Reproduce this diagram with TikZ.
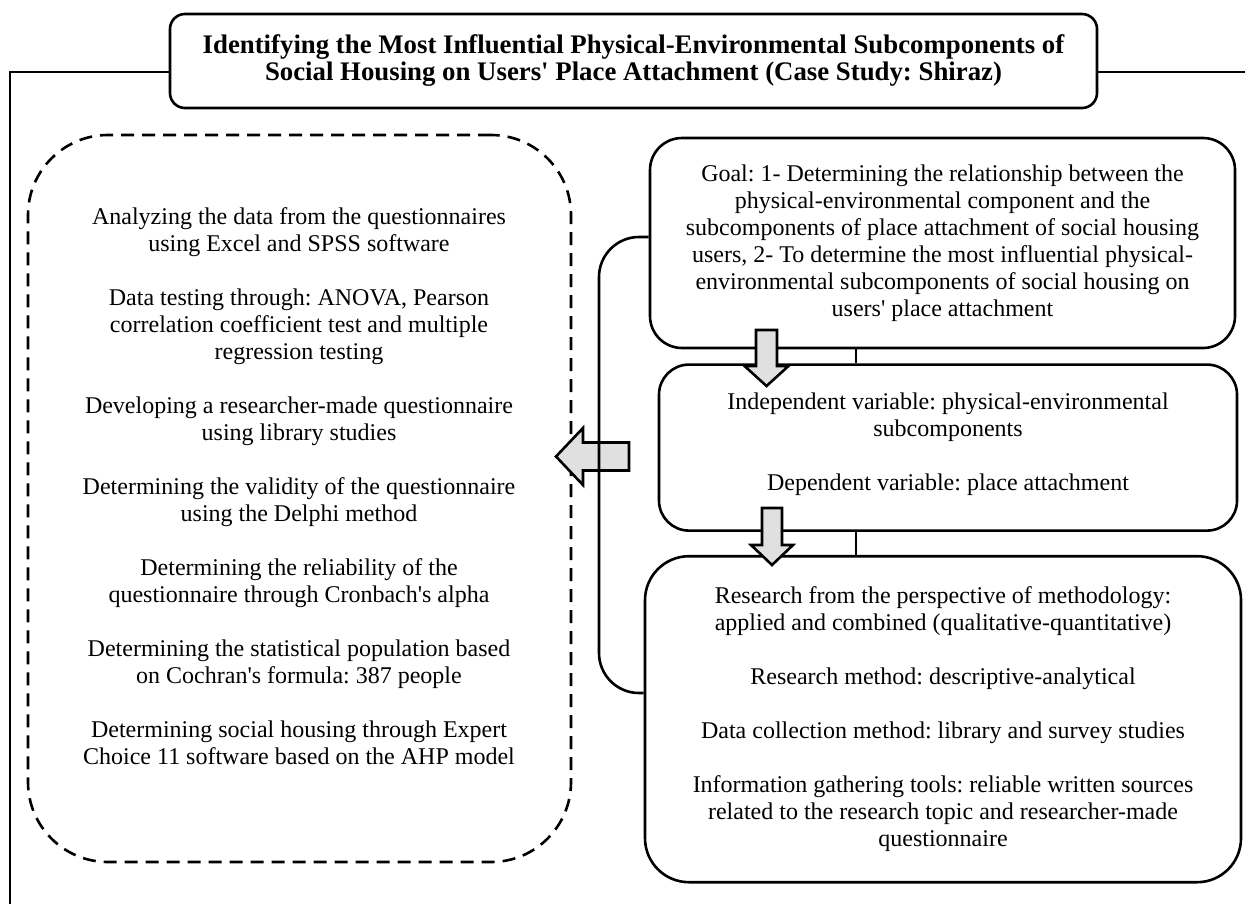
\documentclass[tikz,border=0pt]{standalone}
\usepackage{fontspec}
\setmainfont{Liberation Serif}[Ligatures=TeXOff]
\usetikzlibrary{positioning}
\frenchspacing

\begin{document}
\begin{tikzpicture}[x=0.5pt,y=-0.5pt,
  box/.style={draw, line width=1.3pt, align=center, inner sep=0pt,
    font=\fontsize{12}{13.5}\selectfont},
  dashbox/.style={box, dash pattern=on 6.5pt off 4pt},
  wire/.style={line width=1.3pt},
  fatarrow/.style={draw, line width=1.3pt, fill=black!12, line join=miter}]
  \useasboundingbox (0,0) rectangle (1245,904);

  % title and frame
  \node[box, rounded corners=7.5pt, minimum width=463.5pt, minimum height=47pt,
        font=\fontsize{13.4}{13.5}\selectfont\bfseries] (title) at (633.5,61)
    {Identifying the Most Influential Physical-Environmental Subcomponents of\\
     Social Housing on Users' Place Attachment (Case Study: Shiraz)};
  \coordinate (frametop) at (10,72);
  \coordinate (framebot) at (10,904);
  \coordinate (frameend) at (1245,72);
  \draw[wire] (framebot) -- (frametop) -- (frametop -| title.west);
  \draw[wire] (frametop -| title.east) -- (frameend);

  % methods
  \node[dashbox, rounded corners=40pt, minimum width=271.5pt, minimum height=363.5pt]
    (methods) at (299.5,498.5) {};
  \node[align=center, font=\fontsize{12}{13.5}\selectfont] (methodtext) at (299,486.5)
    {Analyzing the data from the questionnaires\\
     using Excel and SPSS software\\[13.5pt]
     Data testing through: ANOVA, Pearson\\
     correlation coefficient test and multiple\\
     regression testing\\[13.5pt]
     Developing a researcher-made questionnaire\\
     using library studies\\[13.5pt]
     Determining the validity of the questionnaire\\
     using the Delphi method\\[13.5pt]
     Determining the reliability of the\\
     questionnaire through Cronbach's alpha\\[13.5pt]
     Determining the statistical population based\\
     on Cochran's formula: 387 people\\[13.5pt]
     Determining social housing through Expert\\
     Choice 11 software based on the AHP model};

  % goal, variables, method
  \node[box, rounded corners=16pt, minimum width=292.5pt, minimum height=105pt]
    (goal) at (942.5,243)
    {Goal: 1- Determining the relationship between the\\
     physical-environmental component and the\\
     subcomponents of place attachment of social housing\\
     users, 2- To determine the most influential physical-\\
     environmental subcomponents of social housing on\\
     users' place attachment};
  \node[box, rounded corners=15pt, minimum width=289pt, minimum height=83pt,
        below=7pt of goal, xshift=2.75pt] (indep)
    {Independent variable: physical-environmental\\
     subcomponents\\[13.5pt]
     Dependent variable: place attachment\rule[-6pt]{0pt}{6pt}};
  \node[box, rounded corners=22pt, minimum width=298pt, minimum height=163pt,
        below=11.5pt of indep, xshift=-2.5pt] (result)
    {Research from the perspective of methodology:\\
     applied and combined (qualitative-quantitative)\\[13.5pt]
     Research method: descriptive-analytical\\[13.5pt]
     Data collection method: library and survey studies\\[13.5pt]
     Information gathering tools: reliable written sources\\
     related to the research topic and researcher-made\\
     questionnaire};

  \coordinate (spine) at (856,0);
  \draw[wire] (goal.south -| spine) -- (indep.north -| spine);
  \draw[wire] (indep.south -| spine) -- (result.north -| spine);

  % block arrows
  \coordinate (godown) at (766.5,330);
  \coordinate (indown) at (772,508);
  \coordinate (toleft) at (629,456.5);
  \draw[fatarrow] (godown) ++(-10.5,0) -- ++(21,0) -- ++(0,36) -- ++(11.5,0)
    -- ++(-22,20) -- ++(-22,-20) -- ++(11.5,0) -- cycle;
  \draw[fatarrow] (indown) ++(-10,0) -- ++(20,0) -- ++(0,37) -- ++(11,0)
    -- ++(-21,20) -- ++(-21,-20) -- ++(11,0) -- cycle;
  \draw[fatarrow] (toleft) ++(0,-14) -- ++(0,28) -- ++(-46,0) -- ++(0,14.5)
    -- ++(-27,-28.5) -- ++(27,-28.5) -- ++(0,14.5) -- cycle;

  \coordinate (brtop) at (599,237);
  \coordinate (brbot) at (599,693);
  \draw[wire, rounded corners=20pt] (goal.west |- brtop) -- (brtop) -- (brbot)
    -- (result.west |- brbot);
\end{tikzpicture}
\end{document}
